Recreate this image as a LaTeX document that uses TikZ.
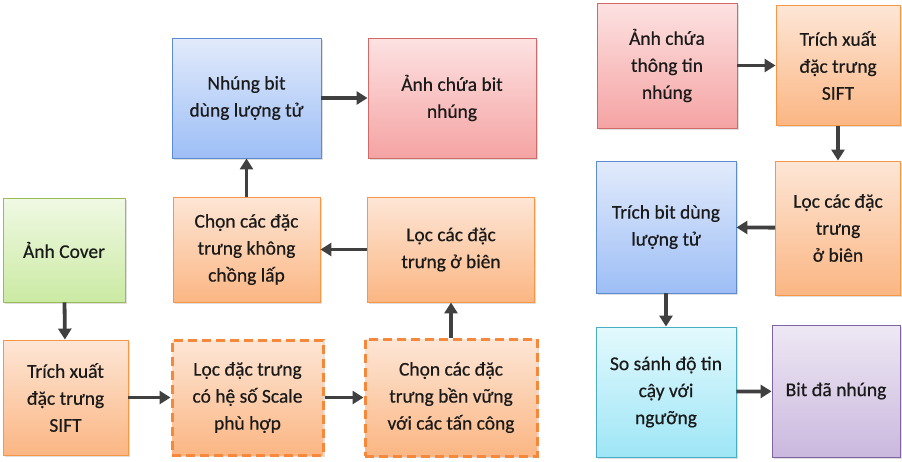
\documentclass[tikz,border=0pt]{standalone}
\usepackage{fontspec}
\setmainfont{Carlito}
\newfontface\boxfont{Carlito}[FakeBold=0.5]
\usepackage{tikz}
\usetikzlibrary{shadows}
\usetikzlibrary{positioning, fit, arrows.meta}
\definecolor{arr}{HTML}{404040}
\definecolor{txt}{HTML}{1A1A1A}
\definecolor{orTop}{HTML}{FDE6D6}\definecolor{orBot}{HTML}{FBB683}\definecolor{orLine}{HTML}{F79646}
\definecolor{orDash}{HTML}{F5883A}
\definecolor{grTop}{HTML}{F0F9E4}\definecolor{grBot}{HTML}{CBEAA3}\definecolor{grLine}{HTML}{9BBB59}
\definecolor{blTop}{HTML}{E2EBFB}\definecolor{blBot}{HTML}{9DBEF6}\definecolor{blLine}{HTML}{5B8BD0}
\definecolor{rdTop}{HTML}{FDE2E2}\definecolor{rdBot}{HTML}{F5A3A3}\definecolor{rdLine}{HTML}{D06A68}
\definecolor{cyTop}{HTML}{E3F9FD}\definecolor{cyBot}{HTML}{9EE6F6}\definecolor{cyLine}{HTML}{4BACC6}
\definecolor{puTop}{HTML}{EEE8F4}\definecolor{puBot}{HTML}{CAB8DE}\definecolor{puLine}{HTML}{8064A2}
\tikzset{
  box/.style={draw, line width=0.9pt, align=center, inner sep=2pt, text=txt,
    font=\boxfont\fontsize{19.5}{27}\selectfont,
    drop shadow={opacity=0.25, shadow xshift=1.5pt, shadow yshift=-1.5pt}},
  orangebox/.style={box, draw=orLine, top color=orTop, bottom color=orBot},
  dashbox/.style={orangebox, draw=orDash, line width=3pt, dash pattern=on 9pt off 5pt},
  greenbox/.style={box, draw=grLine, top color=grTop, bottom color=grBot},
  bluebox/.style={box, draw=blLine, top color=blTop, bottom color=blBot},
  redbox/.style={box, draw=rdLine, top color=rdTop, bottom color=rdBot},
  cyanbox/.style={box, draw=cyLine, top color=cyTop, bottom color=cyBot},
  purplebox/.style={box, draw=puLine, top color=puTop, bottom color=puBot},
  link/.style={draw=arr, line width=3.8pt, -{Triangle[length=11pt,width=13pt]}}
}
\begin{document}
\begin{tikzpicture}[x=1pt,y=-1pt]
\useasboundingbox (0,0) rectangle (902,461);
\node[greenbox, minimum width=122pt, minimum height=104pt] (a) at (64,250) {Ảnh Cover};
\node[orangebox, minimum width=125pt, minimum height=115pt] (b) at (65.5,397.5) {Trích xuất\\đặc trưng\\SIFT};
\node[dashbox, minimum width=151pt, minimum height=115pt] (c) at (247.5,397.5) {Lọc đặc trưng\\có hệ số Scale\\phù hợp};
\node[dashbox, minimum width=172pt, minimum height=117pt] (d) at (451,397.5) {Chọn các đặc\\trưng bền vững\\với các tấn công};
\node[orangebox, minimum width=167pt, minimum height=105pt] (e) at (451,249.5) {Lọc các đặc\\trưng ở biên};
\node[orangebox, minimum width=147pt, minimum height=105pt] (f) at (246.5,249.5) {Chọn các đặc\\trưng không\\chồng lấp};
\node[bluebox, minimum width=149pt, minimum height=120pt] (g) at (246.5,98) {Nhúng bit\\dùng lượng tử};
\node[redbox, minimum width=168pt, minimum height=120pt] (h) at (452,98) {Ảnh chứa bit\\nhúng};
\node[redbox, minimum width=140pt, minimum height=125pt] (i) at (667,65.5) {Ảnh chứa\\thông tin\\nhúng};
\node[orangebox, minimum width=124pt, minimum height=120pt] (j) at (838,65.5) {Trích xuất\\đặc trưng\\SIFT};
\node[orangebox, minimum width=125pt, minimum height=134pt] (k) at (838,228) {Lọc các đặc\\trưng\\ở biên};
\node[bluebox, minimum width=140pt, minimum height=132pt] (l) at (666,227) {Trích bit dùng\\lượng tử};
\node[cyanbox, minimum width=140pt, minimum height=130pt] (m) at (666,392) {So sánh độ tin\\cậy với\\ngưỡng};
\node[purplebox, minimum width=128pt, minimum height=132pt] (n) at (836,391) {Bit đã nhúng};
\draw[link] (a) -- (b);
\draw[link] (b) -- (c);
\draw[link] (c) -- (d);
\draw[link] (d) -- (e);
\draw[link] (e) -- (f);
\draw[link] (f) -- (g);
\draw[link] (g) -- (h);
\draw[link] (i) -- (j);
\draw[link] (j) -- (k);
\draw[link] (k) -- (l);
\draw[link] (l) -- (m);
\draw[link] (m) -- (n);
\end{tikzpicture}
\end{document}
